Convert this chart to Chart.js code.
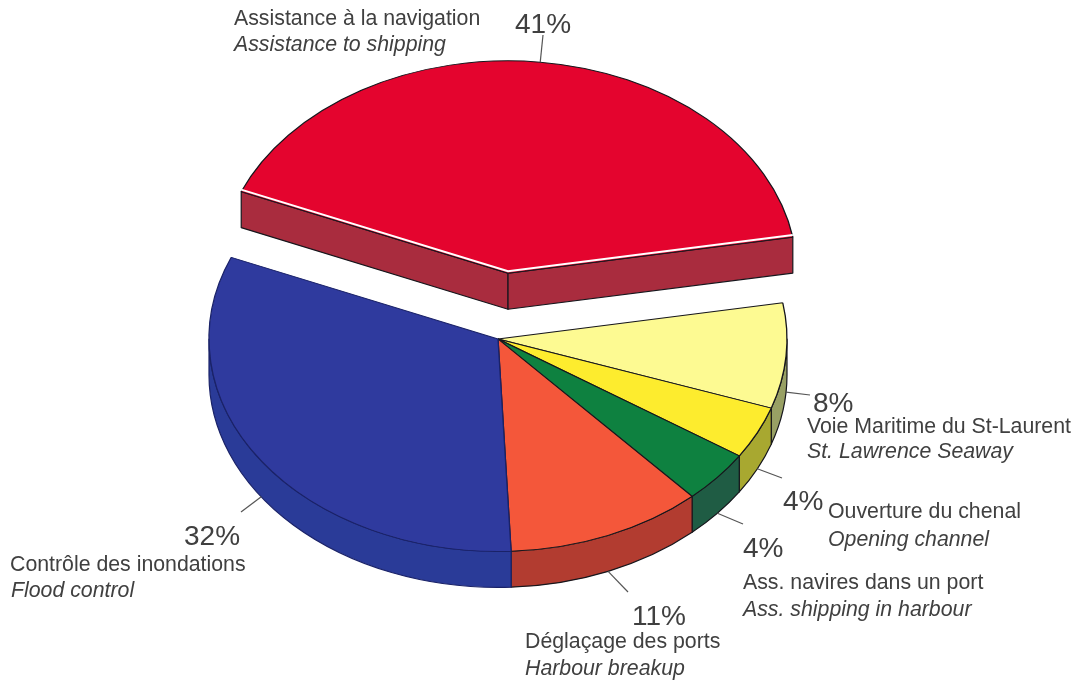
<!DOCTYPE html>
<html>
<head>
<meta charset="utf-8">
<title>Répartition des coûts</title>
<script src="https://cdn.jsdelivr.net/npm/chart.js@4"></script>
<style>
  html, body { margin: 0; padding: 0; background: #fff; }
  canvas { display: block; }
</style>
</head>
<body>
<canvas id="myChart" width="1078" height="682"></canvas>
<script>
const categories = [
  'Assistance à la navigation',
  'Voie Maritime du St-Laurent',
  'Ouverture du chenal',
  'Ass. navires dans un port',
  'Déglaçage des ports',
  'Contrôle des inondations'
];
const categoriesEn = [
  'Assistance to shipping',
  'St. Lawrence Seaway',
  'Opening channel',
  'Ass. shipping in harbour',
  'Harbour breakup',
  'Flood control'
];
const values = [41, 8, 4, 4, 11, 32];

const topColors = ['#e4042e', '#fdfa92', '#fdec2e', '#0e8140', '#f4573a', '#2f3a9e'];
const wallColors = ['#a92c3e', '#98a064', '#a8a830', '#1f5c44', '#b23c30', '#2a3b98'];
const edgeColors = ['#16161c', '#16161c', '#16161c', '#16161c', '#16161c', '#1a2268'];

// how far each slice is pulled out of the pie
const explode = [90, 0, 0, 0, 0, 0];

const squash = 0.735;   // tilt of the disc
const depth = 36;       // thickness of the disc

// text anchors: percent, french line, english line as [x, baseline]
const percentPos = [[515, 33], [813, 412], [783, 510], [743, 557], [632, 625], [184, 545]];
const frPos = [[234, 25], [807, 433], [828, 518], [743, 589], [525, 648], [10, 571]];
const enPos = [[234, 51], [807, 458], [828, 546], [743, 616], [525, 675], [11, 597]];
const leaderEnds = [[543, 35], [810, 395], [782, 478], [743, 524], [628, 592], [241, 512]];

const fontFamily = '"Liberation Sans", Arial, sans-serif';
const textColor = '#404040';

// y on screen for a y in the round, unsquashed pie
function sy(chart, y) {
  const cy = (chart.chartArea.top + chart.chartArea.bottom) / 2;
  return cy + (y - cy) * squash;
}

function edgePoint(chart, arc, angle) {
  return [arc.x + Math.cos(angle) * arc.outerRadius,
          sy(chart, arc.y + Math.sin(angle) * arc.outerRadius)];
}

function drawWalls(chart) {
  const ctx = chart.ctx;
  const arcs = chart.getDatasetMeta(0).data;
  ctx.save();
  ctx.lineWidth = 1.2;
  ctx.lineJoin = 'round';
  arcs.forEach((arc, i) => {
    ctx.fillStyle = wallColors[i];
    ctx.strokeStyle = edgeColors[i];
    const a0 = Math.max(arc.startAngle, 0);
    const a1 = Math.min(arc.endAngle, Math.PI);
    if (a1 > a0) {
      const cy = sy(chart, arc.y);
      const rx = arc.outerRadius;
      const ry = rx * squash;
      ctx.beginPath();
      ctx.ellipse(arc.x, cy, rx, ry, 0, a0, a1);
      ctx.ellipse(arc.x, cy + depth, rx, ry, 0, a1, a0, true);
      ctx.closePath();
      ctx.fill();
      ctx.stroke();
    }
    // cut faces of a slice that was pulled out
    if (explode[i] > 0) {
      const apex = [arc.x, sy(chart, arc.y)];
      [arc.startAngle, arc.endAngle].forEach(a => {
        const p = edgePoint(chart, arc, a);
        ctx.beginPath();
        ctx.moveTo(p[0], p[1]);
        ctx.lineTo(apex[0], apex[1]);
        ctx.lineTo(apex[0], apex[1] + depth);
        ctx.lineTo(p[0], p[1] + depth);
        ctx.closePath();
        ctx.fill();
        ctx.stroke();
      });
    }
  });
  ctx.restore();
}

function drawHighlight(chart) {
  const ctx = chart.ctx;
  const arcs = chart.getDatasetMeta(0).data;
  ctx.save();
  ctx.strokeStyle = '#fff';
  ctx.lineWidth = 2;
  arcs.forEach((arc, i) => {
    if (explode[i] > 0) {
      const a = edgePoint(chart, arc, arc.startAngle);
      const b = edgePoint(chart, arc, arc.endAngle);
      ctx.beginPath();
      ctx.moveTo(a[0], a[1] - 2);
      ctx.lineTo(arc.x, sy(chart, arc.y) - 2);
      ctx.lineTo(b[0], b[1] - 2);
      ctx.stroke();
    }
  });
  ctx.restore();
}

function drawLabels(chart) {
  const ctx = chart.ctx;
  const arcs = chart.getDatasetMeta(0).data;
  ctx.save();
  ctx.textAlign = 'left';
  ctx.textBaseline = 'alphabetic';
  arcs.forEach((arc, i) => {
    // leader starts on the rim at the middle of the slice
    const mid = (arc.startAngle + arc.endAngle) / 2;
    const p = edgePoint(chart, arc, mid);
    const onFront = Math.sin(mid) > 0;
    ctx.strokeStyle = '#555';
    ctx.lineWidth = 1.2;
    ctx.beginPath();
    ctx.moveTo(p[0], p[1] + (onFront ? depth : 0));
    ctx.lineTo(leaderEnds[i][0], leaderEnds[i][1]);
    ctx.stroke();

    ctx.fillStyle = textColor;
    ctx.font = '28px ' + fontFamily;
    ctx.fillText(values[i] + '%', percentPos[i][0], percentPos[i][1]);
    ctx.font = '21.3px ' + fontFamily;
    ctx.fillText(categories[i], frPos[i][0], frPos[i][1]);
    ctx.font = 'italic 21.3px ' + fontFamily;
    ctx.fillText(categoriesEn[i], enPos[i][0], enPos[i][1]);
  });
  ctx.restore();
}

const tiltedPie = {
  id: 'tiltedPie',
  afterDatasetsUpdate(chart) {
    chart.getDatasetMeta(0).data.forEach((arc, i) => {
      const mid = (arc.startAngle + arc.endAngle) / 2;
      arc.x += Math.cos(mid) * explode[i];
      arc.y += Math.sin(mid) * explode[i];
    });
  },
  beforeDatasetsDraw(chart) {
    drawWalls(chart);
    const cy = (chart.chartArea.top + chart.chartArea.bottom) / 2;
    chart.ctx.save();
    chart.ctx.translate(0, cy);
    chart.ctx.scale(1, squash);
    chart.ctx.translate(0, -cy);
  },
  afterDatasetsDraw(chart) {
    chart.ctx.restore();
    drawHighlight(chart);
    drawLabels(chart);
  }
};

const myChart = new Chart(document.getElementById('myChart'), {
  type: 'pie',
  data: {
    labels: categories,
    datasets: [{
      data: values,
      backgroundColor: topColors,
      borderColor: edgeColors,
      borderWidth: 1.3,
      radius: 289,
      rotation: -67.4,
      clip: false
    }]
  },
  options: {
    responsive: false,
    animation: false,
    events: [],
    layout: { padding: { left: 200, right: 282, top: 50, bottom: 54 } },
    plugins: { legend: { display: false }, tooltip: { enabled: false } }
  },
  plugins: [tiltedPie]
});
</script>
</body>
</html>
